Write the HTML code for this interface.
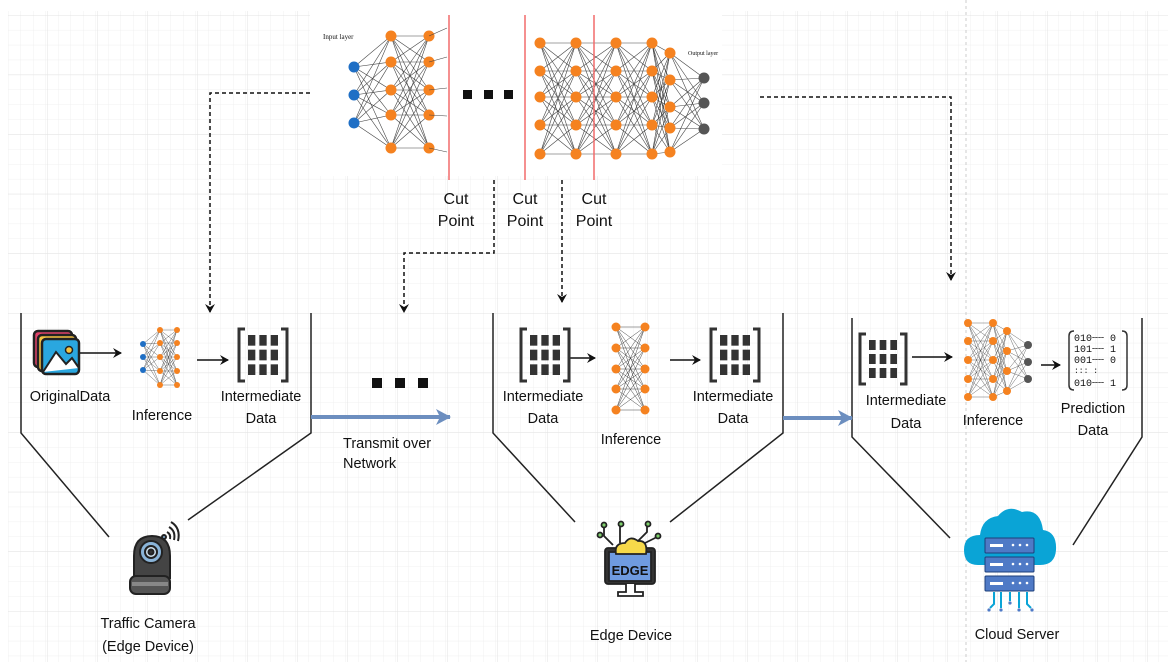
<!DOCTYPE html>
<html><head><meta charset="utf-8"><style>
html,body{margin:0;padding:0;background:#fff}
svg{display:block}
text{font-family:"Liberation Sans",Arial,sans-serif;fill:#111}
</style></head><body>
<svg width="1170" height="670" viewBox="0 0 1170 670" xmlns="http://www.w3.org/2000/svg">
<defs>
<pattern id="minor" x="8" y="15" width="12.5" height="14.9" patternUnits="userSpaceOnUse">
<path d="M0 0V14.9M0 0H12.5" stroke="#f0f0f0" stroke-width="1" fill="none"/></pattern>
<pattern id="major" x="-3" y="15" width="50" height="59.6" patternUnits="userSpaceOnUse">
<path d="M0 0V59.6M0 0H50" stroke="#e3e3e3" stroke-width="1" fill="none"/></pattern>
<marker id="ah" markerWidth="10" markerHeight="10" refX="8" refY="5" orient="auto" markerUnits="userSpaceOnUse"><path d="M0 0L9 5L0 10L3 5Z" fill="#111"/></marker>
<marker id="bh" markerWidth="16" markerHeight="16" refX="14" refY="8" orient="auto" markerUnits="userSpaceOnUse"><path d="M0 0L15 8L0 16L4 8Z" fill="#6c8ebf"/></marker>
</defs>
<rect x="8" y="11" width="1160" height="651" fill="url(#minor)"/>
<rect x="8" y="11" width="1160" height="651" fill="url(#major)"/>
<line x1="966" y1="0" x2="966" y2="662" stroke="#ccc" stroke-dasharray="3 3"/>

<rect x="310" y="0" width="412" height="176" fill="#fff"/>
<g id="topnn"></g>
<text x="323" y="39" font-size="7" fill="#555" style="font-family:'Liberation Serif',serif">Input layer</text>
<text x="688" y="55" font-size="6" fill="#555" style="font-family:'Liberation Serif',serif">Output layer</text>
<g fill="#111"><rect x="463" y="90" width="9" height="9"/><rect x="484" y="90" width="9" height="9"/><rect x="504" y="90" width="9" height="9"/></g>
<g stroke="#f26b6b" stroke-width="1.5"><line x1="449" y1="15" x2="449" y2="180"/><line x1="525" y1="15" x2="525" y2="180"/><line x1="594" y1="15" x2="594" y2="180"/></g>

<g font-size="16" text-anchor="middle">
<text x="456" y="204">Cut</text><text x="456" y="226">Point</text>
<text x="525" y="204">Cut</text><text x="525" y="226">Point</text>
<text x="594" y="204">Cut</text><text x="594" y="226">Point</text>
</g>

<g stroke="#111" stroke-width="1.5" stroke-dasharray="4 3" fill="none" marker-end="url(#ah)">
<path d="M310 93H210V312"/>
<path d="M494 180V253H404V312"/>
<path d="M562 180V302"/>
<path d="M760 97H951V280"/>
</g>

<g stroke="#222" stroke-width="1.5" fill="none">
<path d="M21 313V433L109 537"/><path d="M311 313V433L188 520"/>
<path d="M493 313V433L575 522"/><path d="M783 313V433L670 522"/>
<path d="M852 318V437L950 538"/><path d="M1142 318V437L1073 545"/>
</g>
<g stroke="#6c8ebf" stroke-width="4" marker-end="url(#bh)">
<line x1="311" y1="417" x2="450" y2="417"/><line x1="783" y1="418" x2="852" y2="418"/>
</g>
<g fill="#111"><rect x="372" y="378" width="10" height="10"/><rect x="395" y="378" width="10" height="10"/><rect x="418" y="378" width="10" height="10"/></g>

<g stroke="#111" stroke-width="1.5" marker-end="url(#ah)">
<line x1="80" y1="353" x2="121" y2="353"/><line x1="197" y1="360" x2="228" y2="360"/>
<line x1="570" y1="358" x2="595" y2="358"/><line x1="670" y1="360" x2="700" y2="360"/>
<line x1="912" y1="357" x2="952" y2="357"/><line x1="1041" y1="365" x2="1060" y2="365"/>
</g>

<g stroke="#222" stroke-width="2.5">
<rect x="34" y="331" width="38" height="36" rx="4" fill="#e0436a"/>
<rect x="38" y="335" width="38" height="36" rx="4" fill="#f6c343"/>
<rect x="42" y="339" width="37" height="35" rx="4" fill="#2aa7df"/>
<path d="M43 372L56 352L66 364L72 358L79 368" fill="#fff" stroke-width="2"/>
<circle cx="69" cy="350" r="3.5" fill="#f6c343" stroke-width="1.5"/>
</g>

<g id="mats"></g>
<g id="smallnn"></g>

<g fill="#333">
<path d="M1074 331Q1069 331 1069 336V385Q1069 390 1074 390" stroke="#333" fill="none" stroke-width="1.5"/>
<path d="M1122 331Q1127 331 1127 336V385Q1127 390 1122 390" stroke="#333" fill="none" stroke-width="1.5"/>
<text x="1074" y="341" style="font-family:'Liberation Mono',monospace;font-size:10px">010┄┄ 0</text>
<text x="1074" y="352" style="font-family:'Liberation Mono',monospace;font-size:10px">101┄┄ 1</text>
<text x="1074" y="363" style="font-family:'Liberation Mono',monospace;font-size:10px">001┄┄ 0</text>
<text x="1074" y="373" style="font-family:'Liberation Mono',monospace;font-size:8px">:::    :</text>
<text x="1074" y="386" style="font-family:'Liberation Mono',monospace;font-size:10px">010┄┄ 1</text>
</g>

<g stroke="#222" stroke-width="2">
<path d="M134 578V556Q134 536 152 536Q170 536 170 556V578Z" fill="#444"/>
<circle cx="151" cy="552" r="11" fill="#8ab4d8"/><circle cx="151" cy="552" r="6" fill="#cfe2f0"/><circle cx="151" cy="552" r="2.5" fill="#333"/>
<rect x="130" y="576" width="40" height="18" rx="6" fill="#555"/>
<rect x="132" y="582" width="36" height="4" fill="#888" stroke="none"/>
<circle cx="164" cy="537" r="2" fill="#8ab4d8"/>
<path d="M167 532Q171 534 170 539M169 527Q176 531 174 540M171 522Q181 528 178 541" fill="none" stroke-width="2"/>
</g>

<g stroke="#222" stroke-width="1.8">
<path d="M613 545L604 536V527M620 543V526M636 543L647 532V525M641 545L657 537" fill="none"/>
<circle cx="604" cy="525" r="2.5" fill="#7dcf6b"/><circle cx="621" cy="524" r="2.5" fill="#7dcf6b"/><circle cx="648" cy="524" r="2.5" fill="#7dcf6b"/><circle cx="658" cy="536" r="2.5" fill="#7dcf6b"/><circle cx="600" cy="535" r="2.5" fill="#7dcf6b"/>
<rect x="605" y="548" width="50" height="36" rx="3" fill="#333"/>
<rect x="609" y="552" width="42" height="29" fill="#6f9be0"/>
<path d="M616 554Q614 543 625 543Q630 535 638 541Q648 540 646 554Z" fill="#f6d94a"/>
<path d="M626 584V592H618V596H643V592H635V584" fill="#fff"/>
<text x="630" y="575" text-anchor="middle" font-size="13" font-weight="bold" stroke="none" fill="#1a2a4a">EDGE</text>
</g>

<g>
<path d="M978 565Q964 565 964 550Q964 535 980 535Q982 518 998 516Q1008 504 1022 512Q1040 508 1043 530Q1057 532 1056 550Q1055 565 1040 565Z" fill="#0aa4d6"/>
<rect x="985" y="538" width="49" height="15" rx="1" fill="#4f7ac6" stroke="#1d3f7a"/>
<rect x="985" y="557" width="49" height="15" rx="1" fill="#4f7ac6" stroke="#1d3f7a"/>
<rect x="985" y="576" width="49" height="15" rx="1" fill="#4f7ac6" stroke="#1d3f7a"/>
<g fill="#fff"><rect x="990" y="544" width="13" height="3"/><rect x="990" y="563" width="13" height="3"/><rect x="990" y="582" width="13" height="3"/>
<circle cx="1013" cy="545" r="1.3"/><circle cx="1020" cy="545" r="1.3"/><circle cx="1027" cy="545" r="1.3"/>
<circle cx="1013" cy="564" r="1.3"/><circle cx="1020" cy="564" r="1.3"/><circle cx="1027" cy="564" r="1.3"/>
<circle cx="1013" cy="583" r="1.3"/><circle cx="1020" cy="583" r="1.3"/><circle cx="1027" cy="583" r="1.3"/></g>
<g stroke="#0aa4d6" stroke-width="2" fill="none"><path d="M994 592V604L990 608M1001 592V608M1010 592V601M1019 592V608M1027 592V604L1031 608"/></g>
<g fill="#4f7ac6"><circle cx="989" cy="610" r="1.6"/><circle cx="1001" cy="610" r="1.6"/><circle cx="1010" cy="603" r="1.6"/><circle cx="1019" cy="610" r="1.6"/><circle cx="1032" cy="610" r="1.6"/></g>
</g>

<g font-size="14.5" text-anchor="middle">
<text x="70" y="401">OriginalData</text>
<text x="162" y="420">Inference</text>
<text x="261" y="401">Intermediate</text><text x="261" y="423">Data</text>
<text x="543" y="401">Intermediate</text><text x="543" y="423">Data</text>
<text x="631" y="444">Inference</text>
<text x="733" y="401">Intermediate</text><text x="733" y="423">Data</text>
<text x="906" y="405">Intermediate</text><text x="906" y="428">Data</text>
<text x="993" y="425">Inference</text>
<text x="1093" y="413">Prediction</text><text x="1093" y="435">Data</text>
<text x="148" y="628">Traffic Camera</text><text x="148" y="651">(Edge Device)</text>
<text x="631" y="640">Edge Device</text>
<text x="1017" y="639">Cloud Server</text>
</g>
<g font-size="14.5"><text x="343" y="448">Transmit over</text><text x="343" y="468">Network</text></g>
</svg>
<script>
(function(){
var NS="http://www.w3.org/2000/svg";
function el(p,t,a){var e=document.createElementNS(NS,t);for(var k in a)e.setAttribute(k,a[k]);p.appendChild(e);return e;}
function net(g,layers,r,sw){
 for(var i=0;i<layers.length-1;i++){var A=layers[i],B=layers[i+1];
  A.ys.forEach(function(y1){B.ys.forEach(function(y2){el(g,"line",{x1:A.x,y1:y1,x2:B.x,y2:y2,stroke:"#444","stroke-width":sw});});});}
 layers.forEach(function(L){L.ys.forEach(function(y){el(g,"circle",{cx:L.x,cy:y,r:r,fill:L.c});});});
}
var O="#f58220",B="#1f6fc5",G="#555";
var tn=document.getElementById("topnn");
var s5=[36,62,90,115,148],s5b=[43,71,97,125,154];
net(tn,[{x:354,ys:[67,95,123],c:B},{x:391,ys:s5,c:O},{x:429,ys:s5,c:O}],5.5,0.6);
s5.forEach(function(y,i){el(tn,"line",{x1:429,y1:y,x2:447,y2:y-8+i*3,stroke:"#444","stroke-width":0.6});});
net(tn,[{x:540,ys:s5b,c:O},{x:576,ys:s5b,c:O},{x:616,ys:s5b,c:O},{x:652,ys:s5b,c:O},{x:670,ys:[53,80,107,128,152],c:O},{x:704,ys:[78,103,129],c:G}],5.5,0.6);
var m=document.getElementById("mats");
function mat(x,y,w,h){
 el(m,"path",{d:"M"+(x+6)+" "+y+"H"+x+"V"+(y+h)+"H"+(x+6),stroke:"#333","stroke-width":3,fill:"none"});
 el(m,"path",{d:"M"+(x+w-6)+" "+y+"H"+(x+w)+"V"+(y+h)+"H"+(x+w-6),stroke:"#333","stroke-width":3,fill:"none"});
 var cw=(w-14)/3,ch=(h-8)/3;
 for(var i=0;i<3;i++)for(var j=0;j<3;j++)el(m,"rect",{x:x+8+i*cw+1,y:y+5+j*ch+1,width:cw-4,height:ch-4,fill:"#333"});
}
mat(239,329,48,52);mat(521,329,48,52);mat(711,329,48,52);mat(860,334,46,50);
var sn=document.getElementById("smallnn");
net(sn,[{x:143,ys:[344,357,370],c:B},{x:160,ys:[330,343,357,371,385],c:O},{x:177,ys:[330,343,357,371,385],c:O}],3,0.4);
net(sn,[{x:616,ys:[327,348,369,389,410],c:O},{x:645,ys:[327,348,369,389,410],c:O}],4.5,0.5);
net(sn,[{x:968,ys:[323,341,360,379,397],c:O},{x:993,ys:[323,341,360,379,397],c:O},{x:1007,ys:[331,351,371,391],c:O},{x:1028,ys:[345,362,379],c:G}],4,0.4);
})();
</script>
</body></html>
